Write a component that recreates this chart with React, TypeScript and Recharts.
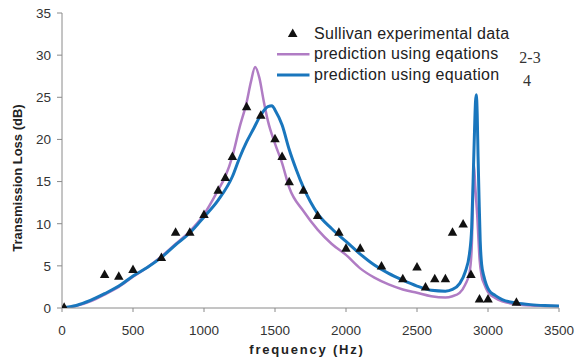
import React from "react";
import { ComposedChart, Line, Scatter, XAxis, YAxis } from "recharts";

// Sullivan experimental data
const expFreq = [15, 300, 400, 500, 700, 800, 900, 1000, 1100, 1150, 1200, 1300, 1400, 1500, 1550, 1600, 1700, 1800, 1950, 2000, 2100, 2250, 2400, 2500, 2560, 2625, 2700, 2750, 2825, 2880, 2940, 3000, 3200];
const expTL = [0, 3.9, 3.7, 4.5, 5.9, 8.9, 8.9, 11, 13.9, 15.4, 17.9, 23.8, 22.8, 20, 17.9, 14.9, 13.9, 10.9, 8.9, 7, 7, 4.9, 3.4, 4.8, 2.4, 3.4, 3.4, 8.9, 9.9, 3.9, 1, 1, 0.6];

// prediction using equations 2-3
const eq23Freq = [0, 100, 200, 300, 400, 500, 600, 700, 800, 900, 1000, 1100, 1150, 1200, 1250, 1300, 1330, 1360, 1390, 1420, 1450, 1500, 1550, 1600, 1700, 1800, 1900, 2000, 2100, 2200, 2300, 2400, 2500, 2600, 2700, 2750, 2800, 2840, 2870, 2885, 2893, 2900, 2910, 2924, 2941, 2955, 2972, 3000, 3050, 3100, 3200, 3300, 3400, 3500];
const eq23TL = [0, 0.25, 0.8, 1.6, 2.5, 3.7, 4.8, 6.1, 7.6, 9.1, 11.1, 14.0, 15.6, 18.0, 21.4, 24.4, 26.8, 28.6, 27.3, 24.6, 22.2, 19.5, 17.2, 14.3, 11.5, 9.3, 7.6, 6.3, 4.7, 3.6, 2.8, 2.2, 1.8, 1.4, 1.25, 1.4, 1.8, 2.8, 4.2, 7, 12, 17.2, 14.5, 11, 5.7, 3.8, 2.9, 1.9, 1.2, 0.8, 0.45, 0.3, 0.25, 0.2];

// prediction using equation 4
const eq4Freq = [0, 100, 200, 300, 400, 500, 600, 700, 800, 900, 1000, 1100, 1200, 1250, 1300, 1350, 1400, 1450, 1480, 1500, 1550, 1600, 1650, 1700, 1800, 1900, 2000, 2100, 2200, 2300, 2400, 2500, 2600, 2700, 2750, 2800, 2840, 2870, 2885, 2895, 2905, 2912, 2918, 2924, 2930, 2937, 2945, 2955, 2972, 3007, 3050, 3100, 3200, 3300, 3400, 3500];
const eq4TL = [0, 0.3, 0.9, 1.7, 2.6, 3.8, 4.8, 6.0, 7.5, 8.9, 10.8, 12.8, 15.6, 17.8, 19.7, 21.3, 22.9, 23.9, 24.0, 23.5, 21.7, 18.8, 16.4, 14.3, 11.2, 9.4, 7.9, 6.4, 5.1, 4.1, 3.3, 2.6, 2.1, 2.0, 2.2, 2.9, 4.3, 6.5, 9.5, 15, 21, 24.5, 25.3, 23, 18, 13, 8, 5.2, 3.7, 2.1, 1.5, 1.0, 0.6, 0.4, 0.3, 0.25];

const xTicks = [0, 500, 1000, 1500, 2000, 2500, 3000, 3500];
const yTicks = [0, 5, 10, 15, 20, 25, 30, 35];

const legendLabels = ["Sullivan experimental data", "prediction using eqations", "prediction using equation"];
const legendSuffix = ["", "2-3", "4"];

const expData = expFreq.map((f, i) => ({ f, tl: expTL[i] }));
const eq23Data = eq23Freq.map((f, i) => ({ f, tl: eq23TL[i] }));
const eq4Data = eq4Freq.map((f, i) => ({ f, tl: eq4TL[i] }));

const PURPLE = "#b07cc4";
const BLUE = "#1976bd";
const FONT = "'Liberation Sans', Arial, sans-serif";

const Triangle = (props: any) => {
  const { cx, cy } = props;
  if (cx == null || cy == null) return null;
  const w = 9.5;
  const h = 8.5;
  return (
    <path
      d={`M${cx},${cy - (2 * h) / 3} L${cx + w / 2},${cy + h / 3} L${cx - w / 2},${cy + h / 3} Z`}
      fill="#111"
    />
  );
};

const YTitle = () => (
  <text
    x={17}
    y={178}
    transform="rotate(-90 17 178)"
    textAnchor="middle"
    dominantBaseline="central"
    fontFamily={FONT}
    fontWeight="bold"
    fontSize={13}
    fill="#222"
  >
    Transmission Loss (dB)
  </text>
);

const XTitle = () => (
  <text
    x={307}
    y={349}
    textAnchor="middle"
    dominantBaseline="central"
    fontFamily={FONT}
    fontWeight="bold"
    fontSize={13}
    letterSpacing={1.8}
    fill="#222"
  >
    frequency (Hz)
  </text>
);

const LegendOverlay = () => (
  <svg
    width={310}
    height={95}
    style={{ position: "absolute", left: 266, top: 0, overflow: "visible" }}
  >
    <g transform="translate(-266,0)">
      <path d="M292.7,28.5 L297.5,37 L287.9,37 Z" fill="#111" />
      <line x1={277} y1={54.3} x2={309.5} y2={54.3} stroke={PURPLE} strokeWidth={2.5} />
      <line x1={277} y1={75} x2={309.5} y2={75} stroke={BLUE} strokeWidth={3} />
      {legendLabels.map((t, i) => (
        <text
          key={t}
          x={314}
          y={33.3 + i * 20.5}
          dominantBaseline="central"
          fontFamily={FONT}
          fontSize={16}
          letterSpacing={0.3}
          fill="#222"
        >
          {t}
        </text>
      ))}
      <text x={530} y={57.5} textAnchor="middle" dominantBaseline="central" fontFamily="'Liberation Serif', 'Times New Roman', serif" fontSize={16} fill="#333">
        {legendSuffix[1]}
      </text>
      <text x={527} y={80} textAnchor="middle" dominantBaseline="central" fontFamily="'Liberation Serif', 'Times New Roman', serif" fontSize={16} fill="#333">
        {legendSuffix[2]}
      </text>
    </g>
  </svg>
);

export default function App() {
  return (
    <div style={{ position: "absolute", left: 0, top: 0, width: 576, height: 362, background: "#fff" }}>
      <ComposedChart width={576} height={362} margin={{ top: 13, right: 17, bottom: 14, left: 0 }}>
        <XAxis
          type="number"
          dataKey="f"
          domain={[0, 3500]}
          ticks={xTicks}
          interval={0}
          allowDataOverflow
          height={40}
          stroke="#8a8a8a"
          tickSize={4}
          tickMargin={13}
          tick={{ fill: "#333", fontSize: 13.5, fontFamily: FONT }}
          label={{ content: XTitle }}
        />
        <YAxis
          type="number"
          dataKey="tl"
          domain={[0, 35]}
          ticks={yTicks}
          interval={0}
          allowDataOverflow
          width={62}
          stroke="#8a8a8a"
          tickSize={5}
          tickMargin={6}
          tick={{ fill: "#333", fontSize: 13.5, fontFamily: FONT }}
          label={{ content: YTitle }}
        />
        <Line
          data={eq23Data}
          dataKey="tl"
          type="monotone"
          stroke={PURPLE}
          strokeWidth={2.5}
          dot={false}
          activeDot={false}
          isAnimationActive={false}
        />
        <Line
          data={eq4Data}
          dataKey="tl"
          type="monotone"
          stroke={BLUE}
          strokeWidth={3}
          dot={false}
          activeDot={false}
          isAnimationActive={false}
        />
        <Scatter data={expData} dataKey="tl" shape={Triangle} isAnimationActive={false} />
      </ComposedChart>
      <LegendOverlay />
    </div>
  );
}
